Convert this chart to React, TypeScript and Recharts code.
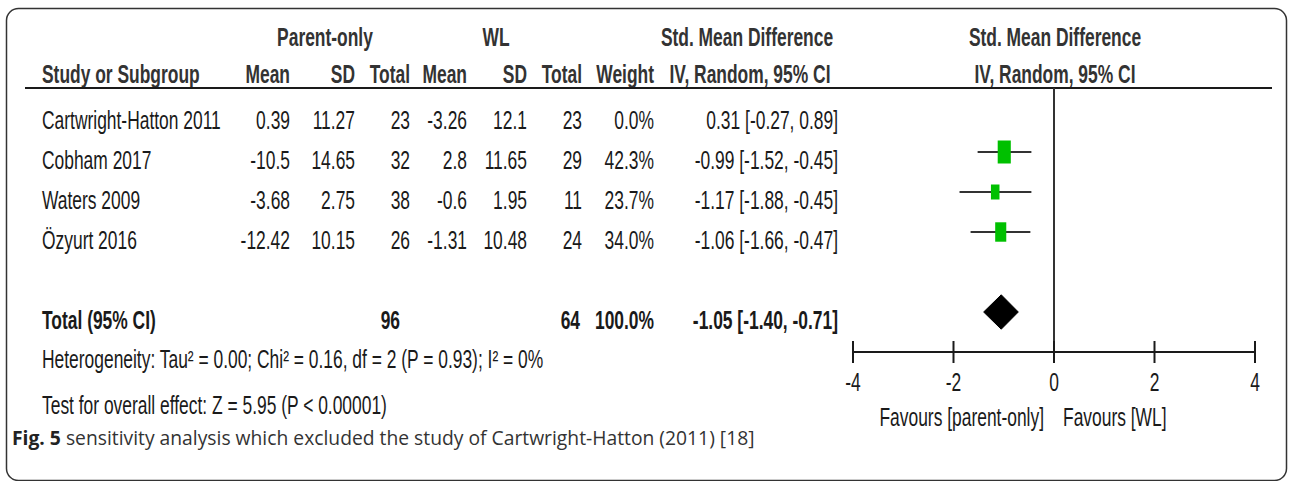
import React from "react";
import {
  ComposedChart,
  Scatter,
  ErrorBar,
  Area,
  XAxis,
  YAxis,
  ReferenceLine,
  Customized,
} from "recharts";

// ---------- data ----------
const studies = ["Cartwright-Hatton 2011", "Cobham 2017", "Waters 2009", "Özyurt 2016"];
const parentMean = ["0.39", "-10.5", "-3.68", "-12.42"];
const parentSD = ["11.27", "14.65", "2.75", "10.15"];
const parentN = [23, 32, 38, 26];
const wlMean = ["-3.26", "2.8", "-0.6", "-1.31"];
const wlSD = ["12.1", "11.65", "1.95", "10.48"];
const wlN = [23, 29, 11, 24];
const weights = [0.0, 42.3, 23.7, 34.0];
const smd = [0.31, -0.99, -1.17, -1.06];
const ciLow = [-0.27, -1.52, -1.88, -1.66];
const ciHigh = [0.89, -0.45, -0.45, -0.47];

const totalSmd = -1.05;
const totalLow = -1.4;
const totalHigh = -0.71;
const totalParentN = 96;
const totalWlN = 64;
const totalWeight = "100.0%";

const xTicks = [-4, -2, 0, 2, 4];
const heterogeneityText = "Heterogeneity: Tau² = 0.00; Chi² = 0.16, df = 2 (P = 0.93); I² = 0%";
const overallText = "Test for overall effect: Z = 5.95 (P < 0.00001)";
const favLeft = "Favours [parent-only]";
const favRight = "Favours [WL]";
const captionBold = "Fig. 5";
const captionRest = " sensitivity analysis which excluded the study of Cartwright-Hatton (2011) [18]";

// ---------- derived chart data ----------
const TOTAL_ROW = 5;
const studyPoints = studies
  .map((s, i) => ({
    x: smd[i],
    y: i,
    err: [smd[i] - ciLow[i], ciHigh[i] - smd[i]],
    w: weights[i],
  }))
  .filter((d) => d.w > 0);

const DIAMOND_HALF = 0.43;
const diamondData = [
  { x: totalLow, band: [TOTAL_ROW, TOTAL_ROW] },
  { x: totalSmd, band: [TOTAL_ROW - DIAMOND_HALF, TOTAL_ROW + DIAMOND_HALF] },
  { x: totalHigh, band: [TOTAL_ROW, TOTAL_ROW] },
];

const fmtCI = (e: number, l: number, h: number) =>
  `${e.toFixed(2)} [${l.toFixed(2)}, ${h.toFixed(2)}]`;

// ---------- layout ----------
const W = 1290;
const H = 481;
const PLOT_TOP = 88;
const AXIS_Y = 352;
const ROW0 = 112;
const ROW_H = 40;
const TXT_OFF = 9;
const SX = 0.697;
const FS = 25;

const rowY = (r: number) => ROW0 + r * ROW_H + TXT_OFF;

function T({
  x,
  y,
  anchor = "start",
  bold = false,
  fill = "#1a1a1a",
  children,
}: any) {
  return (
    <text
      transform={`translate(${x},${y}) scale(${SX},1)`}
      textAnchor={anchor}
      dominantBaseline="central"
      fontFamily="'Liberation Sans', Arial, Helvetica, sans-serif"
      fontSize={FS}
      fontWeight={bold ? 700 : 400}
      fill={fill}
    >
      {children}
    </text>
  );
}

const COL = {
  name: 42,
  m1: 290,
  sd1: 355,
  n1: 410,
  m2: 467,
  sd2: 527,
  n2: 582,
  wt: 654,
  ci: 838,
};

function Square(props: any) {
  const { cx, cy, payload } = props;
  const h = 4.8 + 0.43 * payload.w;
  const w = h * 0.57;
  return <rect x={cx - w / 2} y={cy - h / 2} width={w} height={h} fill="#00c000" />;
}

function AxisTick(props: any) {
  const { x, y, payload } = props;
  return (
    <g>
      <line x1={x} x2={x} y1={y - 22} y2={y} stroke="#1a1a1a" strokeWidth={2} />
      <T x={x} y={y + 20} anchor="middle">
        {String(payload.value)}
      </T>
    </g>
  );
}

function Overlay() {
  const hdr = "#333";
  return (
    <g>
      <rect
        x={6.5}
        y={8.5}
        width={1280}
        height={472}
        rx={12}
        ry={12}
        fill="none"
        stroke="#333"
        strokeWidth={1.5}
      />
      {/* header row 1 */}
      <T x={325} y={38} anchor="middle" bold fill={hdr}>Parent-only</T>
      <T x={496} y={38} anchor="middle" bold fill={hdr}>WL</T>
      <T x={747} y={38} anchor="middle" bold fill={hdr}>Std. Mean Difference</T>
      <T x={1055} y={38} anchor="middle" bold fill={hdr}>Std. Mean Difference</T>
      {/* header row 2 */}
      <T x={COL.name} y={75} bold fill={hdr}>Study or Subgroup</T>
      <T x={COL.m1} y={75} anchor="end" bold fill={hdr}>Mean</T>
      <T x={COL.sd1} y={75} anchor="end" bold fill={hdr}>SD</T>
      <T x={COL.n1} y={75} anchor="end" bold fill={hdr}>Total</T>
      <T x={COL.m2} y={75} anchor="end" bold fill={hdr}>Mean</T>
      <T x={COL.sd2} y={75} anchor="end" bold fill={hdr}>SD</T>
      <T x={COL.n2} y={75} anchor="end" bold fill={hdr}>Total</T>
      <T x={COL.wt} y={75} anchor="end" bold fill={hdr}>Weight</T>
      <T x={750} y={75} anchor="middle" bold fill={hdr}>IV, Random, 95% CI</T>
      <T x={1055} y={75} anchor="middle" bold fill={hdr}>IV, Random, 95% CI</T>
      <line x1={25} x2={1272} y1={88} y2={88} stroke="#1a1a1a" strokeWidth={2} />
      {/* study rows */}
      {studies.map((s, i) => (
        <g key={s}>
          <T x={COL.name} y={rowY(i)}>{s}</T>
          <T x={COL.m1} y={rowY(i)} anchor="end">{parentMean[i]}</T>
          <T x={COL.sd1} y={rowY(i)} anchor="end">{parentSD[i]}</T>
          <T x={COL.n1} y={rowY(i)} anchor="end">{String(parentN[i])}</T>
          <T x={COL.m2} y={rowY(i)} anchor="end">{wlMean[i]}</T>
          <T x={COL.sd2} y={rowY(i)} anchor="end">{wlSD[i]}</T>
          <T x={COL.n2} y={rowY(i)} anchor="end">{String(wlN[i])}</T>
          <T x={COL.wt} y={rowY(i)} anchor="end">{`${weights[i].toFixed(1)}%`}</T>
          <T x={COL.ci} y={rowY(i)} anchor="end">{fmtCI(smd[i], ciLow[i], ciHigh[i])}</T>
        </g>
      ))}
      {/* total row */}
      <T x={COL.name} y={rowY(TOTAL_ROW)} bold>Total (95% CI)</T>
      <T x={400} y={rowY(TOTAL_ROW)} anchor="end" bold>{String(totalParentN)}</T>
      <T x={580} y={rowY(TOTAL_ROW)} anchor="end" bold>{String(totalWlN)}</T>
      <T x={COL.wt} y={rowY(TOTAL_ROW)} anchor="end" bold>{totalWeight}</T>
      <T x={COL.ci} y={rowY(TOTAL_ROW)} anchor="end" bold>{fmtCI(totalSmd, totalLow, totalHigh)}</T>
      <T x={COL.name} y={360}>{heterogeneityText}</T>
      <T x={COL.name} y={406}>{overallText}</T>
      <T x={1044} y={418} anchor="end">{favLeft}</T>
      <T x={1063} y={418}>{favRight}</T>
      <text
        x={12}
        y={437}
        dominantBaseline="central"
        fontFamily="'Open Sans', 'Noto Sans', sans-serif"
        fontSize={19.3}
      >
        <tspan fontWeight={700} fill="#222">{captionBold}</tspan>
        <tspan fill="#333">{captionRest}</tspan>
      </text>
    </g>
  );
}

export default function App() {
  return (
    <div style={{ position: "absolute", left: 0, top: 0, width: W, height: H, background: "#fff" }}>
      <ComposedChart
        width={W}
        height={H}
        margin={{ top: PLOT_TOP, right: 35, bottom: H - AXIS_Y - 40, left: 853 }}
      >
        <XAxis
          type="number"
          dataKey="x"
          domain={[-4, 4]}
          ticks={xTicks}
          allowDataOverflow
          height={40}
          axisLine={{ stroke: "#1a1a1a", strokeWidth: 2 }}
          tickLine={false}
          tickSize={11}
          tickMargin={0}
          tick={<AxisTick />}
          interval={0}
        />
        <YAxis
          type="number"
          dataKey="y"
          domain={[-0.6, 6]}
          reversed
          allowDataOverflow
          hide
          width={0}
        />
        <ReferenceLine x={0} stroke="#333" strokeWidth={2} ifOverflow="extendDomain" />
        <Area
          data={diamondData}
          dataKey="band"
          type="linear"
          stroke="#000"
          strokeWidth={1}
          fill="#000"
          fillOpacity={1}
          isAnimationActive={false}
          dot={false}
          activeDot={false}
        />
        <Scatter data={studyPoints} shape={<Square />} isAnimationActive={false}>
          <ErrorBar dataKey="err" direction="x" width={0} stroke="#333" strokeWidth={2} />
        </Scatter>
        <Customized component={<Overlay />} />
      </ComposedChart>
    </div>
  );
}
